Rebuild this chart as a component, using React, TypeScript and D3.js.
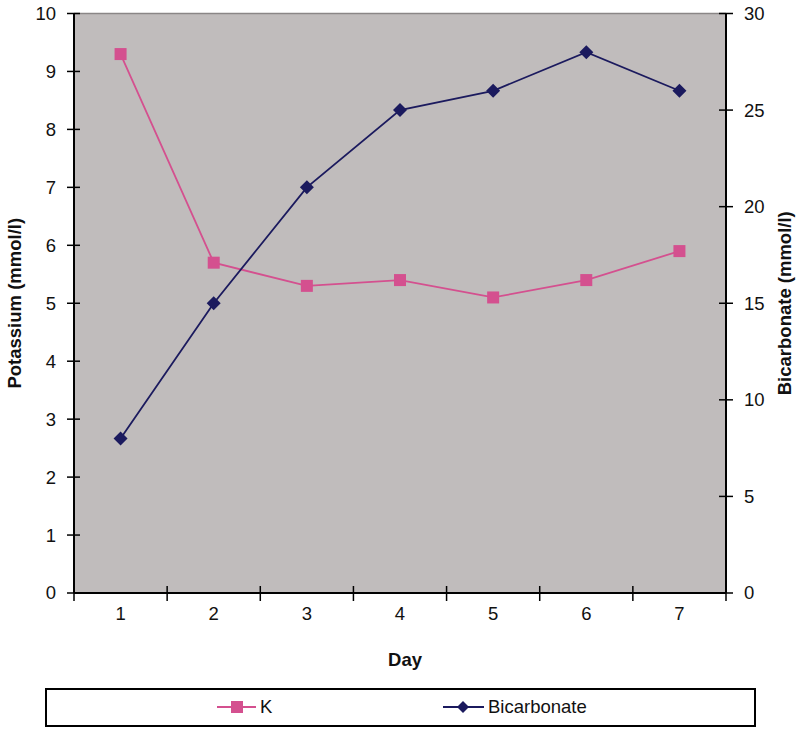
import React from "react";
import * as d3 from "d3";

const days = ["1", "2", "3", "4", "5", "6", "7"];
const potassium = [9.3, 5.7, 5.3, 5.4, 5.1, 5.4, 5.9];
const bicarbonate = [8, 15, 21, 25, 26, 28, 26];
const leftTicks = [0, 1, 2, 3, 4, 5, 6, 7, 8, 9, 10];
const rightTicks = [0, 5, 10, 15, 20, 25, 30];

const W = 800, H = 731;
const L = 74, R = 726, T = 13.5, B = 593;
const FONT = "'Liberation Sans', Arial, sans-serif";
const FS = 18.5;
const K_COLOR = "#d4508f";
const B_COLOR = "#1b1a5e";

export default function App() {
  const x = d3.scaleBand().domain(days).range([L, R]).paddingInner(0).paddingOuter(0);
  const yL = d3.scaleLinear().domain([0, 10]).range([B, T]);
  const yR = d3.scaleLinear().domain([0, 30]).range([B, T]);
  const cx = (d: string) => (x(d) as number) + x.bandwidth() / 2;
  const lineK = d3.line<number>().x((_, i) => cx(days[i])).y((v) => yL(v));
  const lineB = d3.line<number>().x((_, i) => cx(days[i])).y((v) => yR(v));
  const boundaries = days.map((d) => x(d) as number).concat([R]);

  const diamond = (px: number, py: number, s: number) =>
    `M${px},${py - s}L${px + s},${py}L${px},${py + s}L${px - s},${py}Z`;

  return (
    <svg width={W} height={H} style={{ position: "absolute", left: 0, top: 0, background: "#fff" }}>
      <rect x={L} y={T} width={R - L} height={B - T} fill="#c0bcbc" />
      <line x1={L} y1={T} x2={R} y2={T} stroke="#8a8686" strokeWidth={1.5} />
      {/* axes */}
      <line x1={L} y1={T} x2={L} y2={B} stroke="#000" strokeWidth={2} />
      <line x1={R} y1={T} x2={R} y2={B} stroke="#000" strokeWidth={2} />
      <line x1={L} y1={B} x2={R} y2={B} stroke="#000" strokeWidth={2} />
      {leftTicks.map((t) => (
        <g key={"l" + t}>
          <line x1={L - 7} x2={L + 6} y1={yL(t)} y2={yL(t)} stroke="#000" strokeWidth={1.5} />
          <text x={56} y={yL(t)} dy="0.35em" textAnchor="end" fontFamily={FONT} fontSize={FS} fill="#111">{t}</text>
        </g>
      ))}
      {rightTicks.map((t) => (
        <g key={"r" + t}>
          <line x1={R - 7} x2={R + 7} y1={yR(t)} y2={yR(t)} stroke="#000" strokeWidth={1.5} />
          <text x={744} y={yR(t)} dy="0.35em" textAnchor="start" fontFamily={FONT} fontSize={FS} fill="#111">{t}</text>
        </g>
      ))}
      {boundaries.map((b, i) => (
        <line key={"xb" + i} x1={b} x2={b} y1={B - 7} y2={B + 8} stroke="#000" strokeWidth={1.5} />
      ))}
      {days.map((d) => (
        <text key={"x" + d} x={cx(d)} y={B + 27} textAnchor="middle" fontFamily={FONT} fontSize={FS} fill="#111">{d}</text>
      ))}
      {/* titles */}
      <text x={405} y={666} textAnchor="middle" fontFamily={FONT} fontSize={FS} fontWeight="bold" fill="#111">Day</text>
      <text transform={`translate(21,${(T + B) / 2}) rotate(-90)`} textAnchor="middle" fontFamily={FONT} fontSize={FS} fontWeight="bold" fill="#111">Potassium  (mmol/l)</text>
      <text transform={`translate(791,${(T + B) / 2}) rotate(-90)`} textAnchor="middle" fontFamily={FONT} fontSize={FS} fontWeight="bold" fill="#111">Bicarbonate  (mmol/l)</text>
      {/* series */}
      <path d={lineK(potassium) || ""} fill="none" stroke={K_COLOR} strokeWidth={1.8} />
      <path d={lineB(bicarbonate) || ""} fill="none" stroke={B_COLOR} strokeWidth={1.8} />
      {potassium.map((v, i) => (
        <rect key={"k" + i} x={cx(days[i]) - 6} y={yL(v) - 6} width={12} height={12} fill={K_COLOR} />
      ))}
      {bicarbonate.map((v, i) => (
        <path key={"b" + i} d={diamond(cx(days[i]), yR(v), 7)} fill={B_COLOR} />
      ))}
      {/* legend */}
      <rect x={46} y={689} width={709} height={37} fill="#fff" stroke="#000" strokeWidth={2} />
      <line x1={217} x2={256} y1={707} y2={707} stroke={K_COLOR} strokeWidth={1.8} />
      <rect x={231} y={701} width={12} height={12} fill={K_COLOR} />
      <text x={260} y={707} dy="0.35em" fontFamily={FONT} fontSize={FS} fill="#111">K</text>
      <line x1={443} x2={484} y1={707} y2={707} stroke={B_COLOR} strokeWidth={1.8} />
      <path d={diamond(463, 707, 6)} fill={B_COLOR} />
      <text x={488} y={707} dy="0.35em" fontFamily={FONT} fontSize={FS} fill="#111">Bicarbonate</text>
    </svg>
  );
}
